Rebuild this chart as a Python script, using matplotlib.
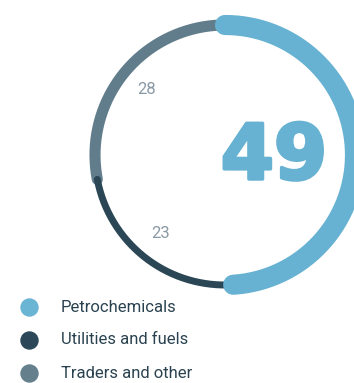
import numpy as np
import matplotlib.pyplot as plt
import matplotlib.patheffects as pe

labels = ["Petrochemicals", "Utilities and fuels", "Traders and other"]
values = [49, 23, 28]
colors = ["#67b2d2", "#2b4756", "#617d8b"]
widths = [14.5, 5.0, 8.0]

fig = plt.figure(figsize=(3.54, 3.83), dpi=100)
ax = fig.add_axes([0, 0, 1, 1])
ax.set_xlim(0, 354)
ax.set_ylim(383, 0)
ax.axis("off")

cx, cy, r = 225, 155, 130

# arcs, clockwise from the top
total = sum(values)
starts = np.cumsum([0] + values[:-1]) / total * 360
arcs = []
for v, s, c, w in zip(values, starts, colors, widths):
    ang = np.radians(np.linspace(s, s + v / total * 360, 200))
    arcs.append((np.sin(ang), -np.cos(ang), c, w))

# drawing order: gray below, dark, then petro on top
for i, z in [(2, 1), (1, 2), (0, 3)]:
    sx, sy, c, w = arcs[i]
    ax.plot(cx + r * sx, cy + r * sy, color=c, lw=w,
            solid_capstyle="round", zorder=z)

ax.text(274, 158, str(values[0]), color=colors[0], fontsize=55,
        family="DejaVu Sans", weight="bold", ha="center", va="center",
        path_effects=[pe.withStroke(linewidth=2.5, foreground=colors[0])])
ax.text(147, 90, str(values[2]), color="#8a9aa5", fontsize=12,
        family="Roboto", weight="normal", ha="center", va="center")
ax.text(161, 234, str(values[1]), color="#8a9aa5", fontsize=12,
        family="Roboto", weight="normal", ha="center", va="center")

leg_colors = ["#6ab4d4", "#2c4858", "#657f8c"]
for k, (lab, c) in enumerate(zip(labels, leg_colors)):
    y = 307 + k * 33
    ax.scatter([29], [y], s=150, color=c, zorder=4)
    ax.text(61, y, lab, color="#2a4250", fontsize=12,
            family="Roboto", weight="normal", va="center")

fig.savefig("out.png", dpi=100)
